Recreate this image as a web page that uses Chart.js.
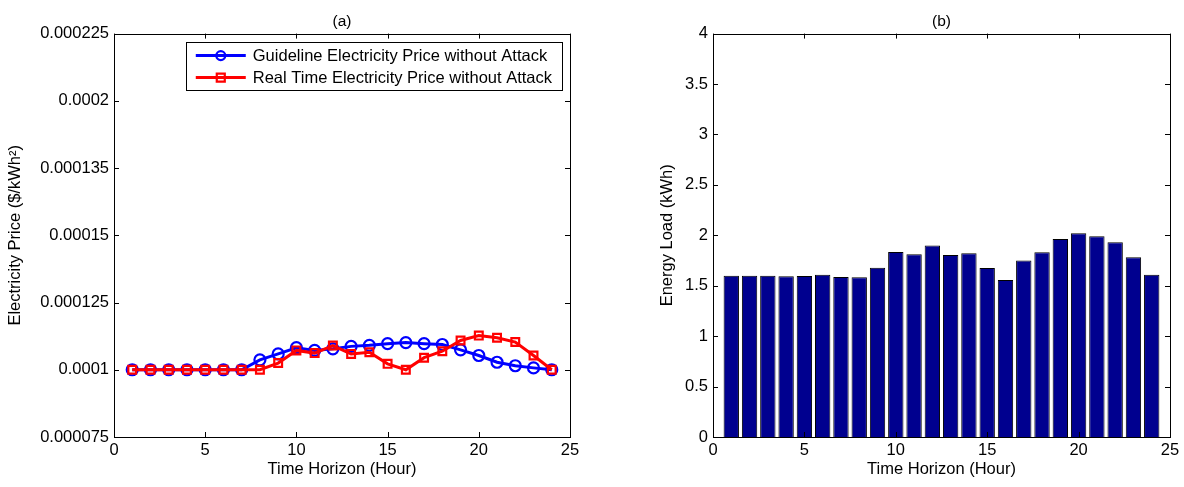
<!DOCTYPE html>
<html>
<head>
<meta charset="utf-8">
<script src="https://cdn.jsdelivr.net/npm/chart.js@4.4.1/dist/chart.umd.min.js"></script>
<style>
    body { margin: 0; background: #fff; }
    .panel { position: absolute; top: 0; width: 592px; height: 487px; }
    #panelA { left: 0; }
    #panelB { left: 592px; }
</style>
</head>
<body>
<div class="panel" id="panelA"><canvas id="graficoPreco"></canvas></div>
<div class="panel" id="panelB"><canvas id="graficoCarga"></canvas></div>
<script>
const hours = [1, 2, 3, 4, 5, 6, 7, 8, 9, 10, 11, 12, 13, 14, 15, 16, 17, 18, 19, 20, 21, 22, 23, 24];

const guidelinePrice = [0.0001, 0.0001, 0.0001, 0.0001, 0.0001, 0.0001, 0.0001, 0.0001037,
    0.0001059, 0.0001082, 0.0001072, 0.0001078, 0.0001087, 0.0001091, 0.0001097, 0.0001101,
    0.0001097, 0.0001094, 0.0001074, 0.0001053, 0.0001028, 0.0001015, 0.0001007, 0.0001];
const realTimePrice = [0.0001, 0.0001, 0.0001, 0.0001, 0.0001, 0.0001, 0.0001, 0.0001,
    0.0001025, 0.0001072, 0.0001062, 0.000109, 0.0001059, 0.0001065, 0.0001022, 0.0001,
    0.0001045, 0.0001069, 0.0001109, 0.0001127, 0.0001119, 0.0001103, 0.0001053, 0.0001];
const energyLoad = [1.6, 1.6, 1.6, 1.593, 1.597, 1.61, 1.587, 1.583, 1.679, 1.835, 1.812, 1.898,
    1.805, 1.821, 1.676, 1.557, 1.749, 1.831, 1.964, 2.02, 1.99, 1.931, 1.782, 1.61];

const hourTicks = ['0', '5', '10', '15', '20', '25'];
// labels exactly as printed on the original axis
const priceTicks = ['0.000075', '0.0001', '0.000125', '0.00015', '0.000135', '0.0002', '0.000225'];
const loadTicks = ['0', '0.5', '1', '1.5', '2', '2.5', '3', '3.5', '4'];

Chart.defaults.font.family = '"Liberation Sans", Arial, Helvetica, sans-serif';
Chart.defaults.font.size = 16.5;
Chart.defaults.color = '#000';
Chart.defaults.animation = false;

// box around the axes + inward ticks on all four sides (matlab style)
const caixaTicks = {
    id: 'caixaTicks',
    afterDatasetsDraw(chart) {
        const { ctx, chartArea: a, scales: { x, y } } = chart;
        ctx.save();
        ctx.strokeStyle = '#000';
        ctx.lineWidth = 1;
        ctx.beginPath();
        x.ticks.forEach(t => {
            const px = Math.round(x.getPixelForValue(t.value)) + 0.5;
            ctx.moveTo(px, a.bottom); ctx.lineTo(px, a.bottom - 5);
            ctx.moveTo(px, a.top); ctx.lineTo(px, a.top + 5);
        });
        y.ticks.forEach(t => {
            const py = Math.round(y.getPixelForValue(t.value)) + 0.5;
            ctx.moveTo(a.left, py); ctx.lineTo(a.left + 5, py);
            ctx.moveTo(a.right, py); ctx.lineTo(a.right - 5, py);
        });
        ctx.stroke();
        ctx.strokeRect(Math.round(a.left) + 0.5, Math.round(a.top) + 0.5,
            Math.round(a.right - a.left), Math.round(a.bottom - a.top));
        ctx.restore();
    }
};

// legend box inside the plot, top right
const legendaInterna = {
    id: 'legendaInterna',
    afterDraw(chart) {
        const { ctx, chartArea: a } = chart;
        const itens = [chart.data.datasets[1], chart.data.datasets[0]];
        ctx.save();
        ctx.font = '16.5px "Liberation Sans", Arial, sans-serif';
        const larguraTexto = Math.max(...itens.map(d => ctx.measureText(d.label).width));
        const w = 10 + 50 + 7 + larguraTexto + 10;
        const h = 48;
        const right = a.right - 8;
        const top = a.top + 8;
        const left = right - w;
        ctx.fillStyle = '#fff';
        ctx.fillRect(left, top, w, h);
        ctx.strokeStyle = '#000';
        ctx.lineWidth = 1;
        ctx.strokeRect(Math.round(left) + 0.5, Math.round(top) + 0.5, Math.round(w), h);
        itens.forEach((d, i) => {
            const cy = top + 14 + i * 22;
            const x0 = left + 10;
            ctx.strokeStyle = d.borderColor;
            ctx.lineWidth = d.borderWidth;
            ctx.beginPath();
            ctx.moveTo(x0, cy); ctx.lineTo(x0 + 50, cy);
            ctx.stroke();
            ctx.lineWidth = d.pointBorderWidth;
            ctx.beginPath();
            if (d.pointStyle === 'rect') {
                ctx.rect(x0 + 25 - 4, cy - 4, 8, 8);
            } else {
                ctx.arc(x0 + 25, cy, 4.5, 0, Math.PI * 2);
            }
            ctx.stroke();
            ctx.fillStyle = '#000';
            ctx.textBaseline = 'middle';
            ctx.textAlign = 'left';
            ctx.fillText(d.label, x0 + 57, cy + 1);
        });
        ctx.restore();
    }
};

function eixoX(altura) {
    return {
        type: 'linear',
        min: 0,
        max: 25,
        offset: false,
        grid: { display: false, drawTicks: false, offset: false },
        border: { display: false },
        ticks: {
            stepSize: 5,
            padding: 4,
            callback: (v, i) => hourTicks[i]
        },
        title: { display: true, text: 'Time Horizon (Hour)', padding: { top: 0, bottom: 8 } },
        afterFit: s => { s.height = altura; }
    };
}

const ctxPreco = document.getElementById('graficoPreco').getContext('2d');
new Chart(ctxPreco, {
    type: 'line',
    data: {
        datasets: [
            {
                label: 'Real Time Electricity Price without Attack',
                data: hours.map((h, i) => ({ x: h, y: realTimePrice[i] })),
                borderColor: 'rgb(255, 0, 0)',
                backgroundColor: 'rgb(255, 0, 0)',
                borderWidth: 3,
                pointStyle: 'rect',
                pointRadius: 5.5,
                pointBorderWidth: 2.2,
                pointBackgroundColor: 'rgba(0,0,0,0)',
                pointBorderColor: 'rgb(255, 0, 0)',
                order: 0
            },
            {
                label: 'Guideline Electricity Price without Attack',
                data: hours.map((h, i) => ({ x: h, y: guidelinePrice[i] })),
                borderColor: 'rgb(0, 0, 255)',
                backgroundColor: 'rgb(0, 0, 255)',
                borderWidth: 3,
                pointStyle: 'circle',
                pointRadius: 5.5,
                pointBorderWidth: 2.2,
                pointBackgroundColor: 'rgba(0,0,0,0)',
                pointBorderColor: 'rgb(0, 0, 255)',
                order: 1
            }
        ]
    },
    options: {
        responsive: true,
        maintainAspectRatio: false,
        layout: { padding: { left: 0, right: 22, top: 0, bottom: 0 } },
        scales: {
            x: eixoX(50),
            y: {
                type: 'linear',
                min: 0.000075,
                max: 0.000225,
                grid: { display: false, drawTicks: false },
                border: { display: false },
                ticks: {
                    stepSize: 0.000025,
                    padding: 5,
                    callback: (v, i) => priceTicks[i]
                },
                title: { display: true, text: 'Electricity Price ($/kWh²)', padding: { top: 6, bottom: 0 } },
                afterFit: s => { s.width = 114; }
            }
        },
        plugins: {
            legend: { display: false },
            tooltip: { enabled: false },
            title: {
                display: true,
                text: '(a)',
                fullSize: false,
                font: { size: 15.5, weight: 'normal' },
                padding: { top: 12, bottom: 3 }
            }
        }
    },
    plugins: [caixaTicks, legendaInterna]
});

const ctxCarga = document.getElementById('graficoCarga').getContext('2d');
new Chart(ctxCarga, {
    type: 'bar',
    data: {
        datasets: [{
            label: 'Energy Load',
            data: hours.map((h, i) => ({ x: h, y: energyLoad[i] })),
            backgroundColor: 'rgb(0, 0, 143)',
            borderColor: '#000',
            borderWidth: 1,
            barPercentage: 0.84,
            categoryPercentage: 1
        }]
    },
    options: {
        responsive: true,
        maintainAspectRatio: false,
        layout: { padding: { left: 0, right: 14, top: 0, bottom: 0 } },
        scales: {
            x: eixoX(50),
            y: {
                type: 'linear',
                min: 0,
                max: 4,
                grid: { display: false, drawTicks: false },
                border: { display: false },
                ticks: {
                    stepSize: 0.5,
                    padding: 5,
                    callback: (v, i) => loadTicks[i]
                },
                title: { display: true, text: 'Energy Load (kWh)', padding: { top: 66, bottom: 0 } },
                afterFit: s => { s.width = 121; }
            }
        },
        plugins: {
            legend: { display: false },
            tooltip: { enabled: false },
            title: {
                display: true,
                text: '(b)',
                fullSize: false,
                font: { size: 15.5, weight: 'normal' },
                padding: { top: 12, bottom: 3 }
            }
        }
    },
    plugins: [caixaTicks]
});
</script>
</body>
</html>
